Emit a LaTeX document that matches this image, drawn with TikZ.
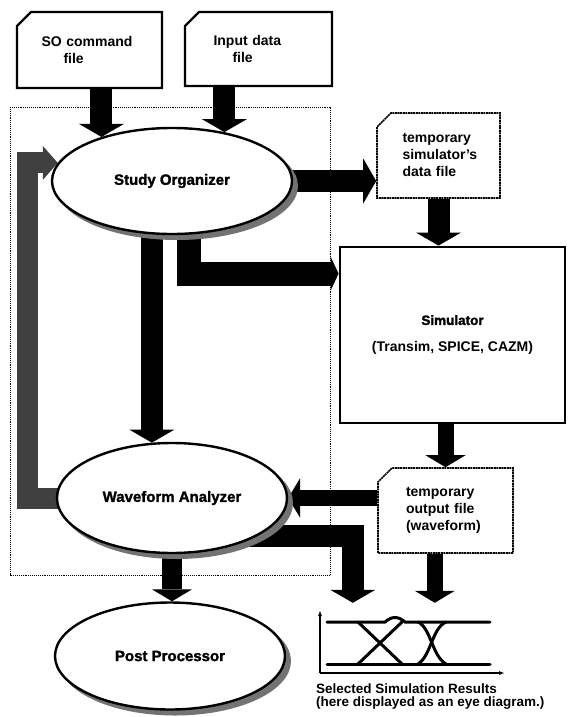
\documentclass[tikz,border=0pt]{standalone}
\usepackage{fontspec}
\setmainfont{Liberation Sans}
\newfontfamily\heavyfont{Liberation Sans Bold}[FakeBold=1.6]
\usetikzlibrary{arrows.meta,calc,shapes.misc,shapes.geometric,backgrounds}
\pgfdeclarelayer{shadowlayer}
\pgfsetlayers{background,shadowlayer,main}

\begin{document}
\begin{tikzpicture}[x=1pt,y=-1pt,
  font=\bfseries\fontsize{14}{17}\selectfont,
  filebox/.style={chamfered rectangle,chamfered rectangle corners=north west,chamfered rectangle xsep=7pt,chamfered rectangle ysep=7pt,draw,line width=2.4pt,fill=white,inner sep=0pt,align=left},
  tempfile/.style={filebox,line width=1.6pt,dash pattern=on 2pt off 0.6pt},
  process/.style={ellipse,draw,line width=2.4pt,fill=white,inner sep=0pt,font=\heavyfont\fontsize{15}{17}\selectfont},
  procshadow/.style={fill=black!55},
  flow/.style={draw=black,line width=22pt,-{Triangle[length=13pt,width=45pt,line width=0pt]}},
  thinflow/.style={draw=black,line width=16pt,-{Triangle[length=12pt,width=40pt,line width=0pt]}},
  stubflow/.style={draw=black,line width=24pt,-{Triangle[length=8pt,width=34pt,line width=0pt]}},
  backflow/.style={draw=black!75,line width=21pt,-{Triangle[length=15pt,width=34pt,line width=0pt]}},
  trace/.style={line width=3pt,line cap=round}
]
\path[use as bounding box] (0,0) rectangle (568,717);

% Input files
\node[filebox,minimum width=145pt,minimum height=76pt,text width=96pt] (sofile) at (89.5,50) {SO command\\\hspace*{22pt}file};
\node[filebox,minimum width=147pt,minimum height=74pt,text width=90pt] (infile) at (258.5,49) {Input data\\\hspace*{19pt}file};

% Processes
\node[process,minimum width=240pt,minimum height=106pt] (so) at (172,181) {Study Organizer};
\node[process,minimum width=230pt,minimum height=110pt] (wa) at (172,498) {Waveform Analyzer};
\node[process,minimum width=230pt,minimum height=107pt] (pp) at (170,656) {Post Processor};

% Simulator side
\node[tempfile,minimum width=123pt,minimum height=85pt,text width=72pt] (tsim) at (438.5,155.5) {temporary\\simulator's\\data file};
\node[draw,line width=2.8pt,fill=white,minimum width=225pt,minimum height=176pt,align=center] (sim) at (452.5,335) {{\heavyfont\fontsize{13.5}{17}\selectfont Simulator}\\[10pt](Transim, SPICE, CAZM)};
\node[tempfile,minimum width=135pt,minimum height=85pt,text width=79pt] (tout) at (445.5,510.5) {temporary\\output file\\(waveform)};

% Eye diagram
\node[inner sep=0pt,minimum width=187pt,minimum height=72pt] (eye) at (411.5,639) {};
\draw[line width=1.2pt,-{Latex[length=6pt,width=4pt]}] (320,673) -- (320,610);
\draw[line width=1.2pt,-{Latex[length=6pt,width=4pt]}] (320,673) -- (505,673);
\draw[trace] (327,622) -- (385,622) .. controls (392,616) and (398,616) .. (405,622) -- (490,622);
\draw[trace] (327,664) -- (490,664);
\draw[trace] (358,622) -- (402,664);
\draw[trace] (358,664) -- (402,622);
\draw[trace] (418,622) .. controls (431,628) and (432,656) .. (446,664);
\draw[trace] (418,664) .. controls (431,656) and (432,628) .. (446,622);
\node[anchor=north west,inner sep=0pt,align=left,font=\bfseries\fontsize{13.5}{12.5}\selectfont] (caption) at (316,684) {Selected Simulation Results\\(here displayed as an eye diagram.)};

\coordinate (loopcorner) at ($(so.171)+(-30,0)$);
\coordinate (eyeleft) at ($(eye.north west)+(35,0)$);
\coordinate (eyeright) at ($(eye.north west)+(117,0)$);

% Stippled shadows under the processes
\begin{pgfonlayer}{shadowlayer}
\fill[procshadow] ($(so.center)+(5,5)$) ellipse [x radius=121, y radius=54];
\fill[procshadow] ($(wa.center)+(5,5)$) ellipse [x radius=116, y radius=56];
\fill[procshadow] ($(pp.center)+(5,5)$) ellipse [x radius=116, y radius=54.5];
\end{pgfonlayer}

\begin{scope}[on background layer]
% Study organizer boundary
\draw[line width=0.9pt,densely dotted] (10,107) rectangle (330,575);

% Flow
\draw[flow] (sofile.south -| so.148) -- (so.148);
\draw[flow] (infile.south -| so.43) -- (so.43);
\draw[flow] (so.center) -- (so.center -| tsim.west);
\draw[stubflow] ($(so.center)+(17,0)$) |- ($(sim.north west)+(0,28)$);
\draw[flow] (wa.110 |- so.center) -- (wa.110);
\draw[flow] (tsim.south) -- (tsim.south |- sim.north);
\draw[thinflow] (tout.north |- sim.south) -- (tout.north);
\draw[thinflow] (tout.west |- wa.east) -- (wa.east);
\draw[thinflow] (tout.south -| eyeright) -- (eyeright);
\draw[flow] ($(wa.center)+(0,38)$) -| (eyeleft);
\draw[thinflow,line width=20pt] (wa.center) -- (wa.center |- pp.north);

% Feedback to the study organizer
\draw[backflow] (wa.center) -| (loopcorner) -- (so.171);
\end{scope}

\end{tikzpicture}
\end{document}
